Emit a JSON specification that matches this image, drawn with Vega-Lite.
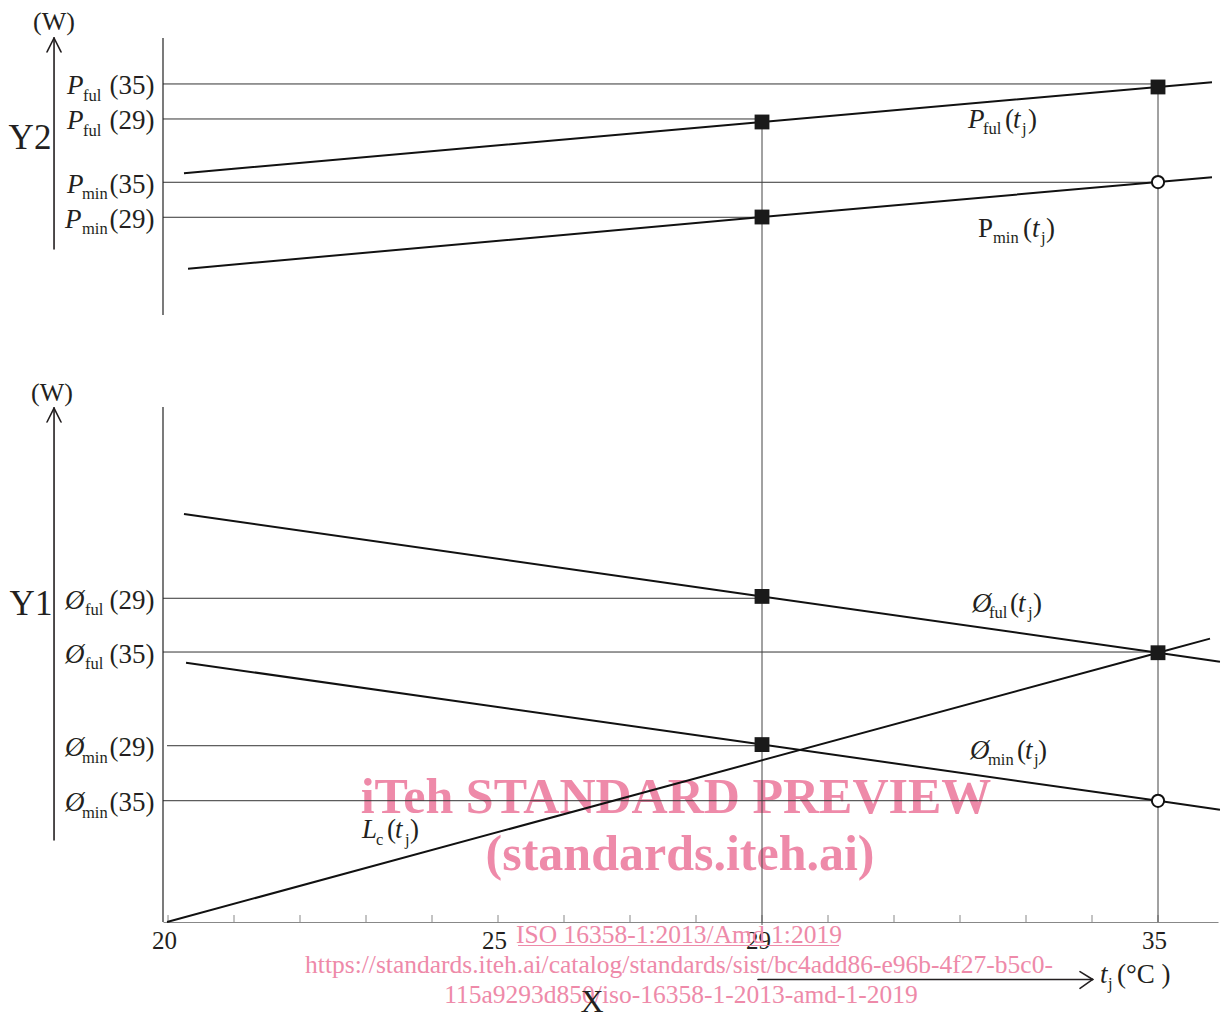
{
  "$schema": "https://vega.github.io/schema/vega-lite/v6.json",
  "width": 1055,
  "height": 884,
  "autosize": {"type": "none"},
  "padding": {"left": 163, "top": 38, "right": 3, "bottom": 99},
  "background": "white",
  "config": {"view": {"stroke": null}, "font": "Liberation Serif"},
  "resolve": {"axis": {"x": "independent", "y": "independent"}},
  "datasets": {
    "ticks": [{"t":20},{"t":21},{"t":22},{"t":23},{"t":24},{"t":25},{"t":26},{"t":27},{"t":28},{"t":29},{"t":30},{"t":31},{"t":32},{"t":33},{"t":34},{"t":35}],
    "series": [
      {"s":"Pful","t":20.242,"w":84.70},{"s":"Pful","t":29,"w":90.50},{"s":"Pful","t":35,"w":94.46},{"s":"Pful","t":35.818,"w":95.0},
      {"s":"Pmin","t":20.303,"w":73.9},{"s":"Pmin","t":29,"w":79.75},{"s":"Pmin","t":35,"w":83.71},{"s":"Pmin","t":35.818,"w":84.25},
      {"s":"Oful","t":20.242,"w":46.15},{"s":"Oful","t":29,"w":36.83},{"s":"Oful","t":35,"w":30.46},{"s":"Oful","t":35.939,"w":29.43},
      {"s":"Omin","t":20.273,"w":29.33},{"s":"Omin","t":29,"w":20.07},{"s":"Omin","t":35,"w":13.71},{"s":"Omin","t":35.939,"w":12.70},
      {"s":"Lc","t":19.985,"w":0},{"s":"Lc","t":35,"w":30.46},{"s":"Lc","t":35.788,"w":32.06}
    ],
    "squares": [{"t":29,"w":90.50},{"t":35,"w":94.46},{"t":29,"w":79.75},{"t":29,"w":36.83},{"t":35,"w":30.46},{"t":29,"w":20.07}],
    "circles": [{"t":35,"w":83.71},{"t":35,"w":13.71}],
    "vlines": [{"t":29,"w1":90.5,"w2":-0.34},{"t":35,"w1":94.46,"w2":0}],
    "hlines": [
      {"t1":19.924,"t2":35,"w":94.80},{"t1":19.924,"t2":29,"w":90.84},{"t1":19.924,"t2":35,"w":83.68},{"t1":19.924,"t2":29,"w":79.72},
      {"t1":19.924,"t2":29,"w":36.62},{"t1":19.924,"t2":35,"w":30.54},{"t1":19.985,"t2":29,"w":19.94},{"t1":19.924,"t2":35,"w":13.72}
    ],
    "yaxes": [{"t":19.924,"w1":100,"w2":68.67},{"t":19.924,"w1":58.26,"w2":0}],
    "arrows": [
      {"t1":18.273,"w1":76.13,"t2":18.273,"w2":100},{"t1":18.167,"w1":98.42,"t2":18.273,"w2":100},{"t1":18.379,"w1":98.42,"t2":18.273,"w2":100},
      {"t1":18.273,"w1":9.28,"t2":18.273,"w2":58.14},{"t1":18.167,"w1":56.56,"t2":18.273,"w2":58.14},{"t1":18.379,"w1":56.56,"t2":18.273,"w2":58.14},
      {"t1":28.939,"w1":-6.50,"t2":34.011,"w2":-6.50},{"t1":33.818,"w1":-5.62,"t2":34.011,"w2":-6.50},{"t1":33.818,"w1":-7.50,"t2":34.011,"w2":-6.50}
    ],
    "italic": [
      {"s":"P","t":18.470,"w":94.80},{"s":"P","t":18.470,"w":90.84},{"s":"P","t":18.470,"w":83.68},{"s":"P","t":18.439,"w":79.72},
      {"s":"Ø","t":18.439,"w":36.62},{"s":"Ø","t":18.439,"w":30.54},{"s":"Ø","t":18.439,"w":19.94},{"s":"Ø","t":18.439,"w":13.72},
      {"s":"P","t":32.121,"w":91.01},{"s":"t","t":32.803,"w":91.01},
      {"s":"t","t":33.091,"w":78.68},
      {"s":"Ø","t":32.182,"w":36.26},{"s":"t","t":32.879,"w":36.26},
      {"s":"Ø","t":32.152,"w":19.63},{"s":"t","t":32.985,"w":19.63},
      {"s":"L","t":22.939,"w":10.69},{"s":"t","t":23.439,"w":10.69},
      {"s":"t","t":34.121,"w":-5.71}
    ],
    "roman": [
      {"s":"(35)","t":19.114,"w":94.80},{"s":"(29)","t":19.114,"w":90.84},{"s":"(35)","t":19.114,"w":83.68},{"s":"(29)","t":19.114,"w":79.72},
      {"s":"(29)","t":19.114,"w":36.62},{"s":"(35)","t":19.114,"w":30.54},{"s":"(29)","t":19.114,"w":19.94},{"s":"(35)","t":19.114,"w":13.72},
      {"s":"(","t":32.682,"w":91.01},{"s":")","t":33.030,"w":91.01},
      {"s":"P","t":32.273,"w":78.68},{"s":"(","t":32.955,"w":78.68},{"s":")","t":33.303,"w":78.68},
      {"s":"(","t":32.758,"w":36.26},{"s":")","t":33.106,"w":36.26},
      {"s":"(","t":32.864,"w":19.63},{"s":")","t":33.182,"w":19.63},
      {"s":"(","t":23.318,"w":10.69},{"s":")","t":23.667,"w":10.69},
      {"s":"(°C )","t":34.379,"w":-5.71}
    ],
    "subs": [
      {"s":"ful","t":18.712,"w":94.80},{"s":"ful","t":18.712,"w":90.84},{"s":"min","t":18.697,"w":83.68},{"s":"min","t":18.697,"w":79.72},
      {"s":"ful","t":18.742,"w":36.62},{"s":"ful","t":18.742,"w":30.54},{"s":"min","t":18.697,"w":19.94},{"s":"min","t":18.697,"w":13.72},
      {"s":"ful","t":32.348,"w":91.01},{"s":"j","t":32.939,"w":91.01},
      {"s":"min","t":32.5,"w":78.68},{"s":"j","t":33.227,"w":78.68},
      {"s":"ful","t":32.439,"w":36.26},{"s":"j","t":33.030,"w":36.26},
      {"s":"min","t":32.424,"w":19.63},{"s":"j","t":33.121,"w":19.63},
      {"s":"c","t":23.152,"w":10.69},{"s":"j","t":23.591,"w":10.69},
      {"s":"j","t":34.242,"w":-5.71}
    ],
    "big": [{"s":"Y2","t":17.909,"w":88.69},{"s":"Y1","t":17.924,"w":35.97}],
    "xname": [{"s":"X","t":26.424,"w":-9.10}],
    "units": [{"s":"(W)","t":18.273,"w":101.81},{"s":"(W)","t":18.242,"w":59.84}],
    "wmbig": [{"s":"iTeh STANDARD PREVIEW","t":27.697,"w":12.33},{"s":"(standards.iteh.ai)","t":27.758,"w":5.88}],
    "wmsmall": [
      {"s":"ISO 16358-1:2013/Amd 1:2019","t":27.742,"w":-2.38},
      {"s":"https://standards.iteh.ai/catalog/standards/sist/bc4add86-e96b-4f27-b5c0-","t":27.742,"w":-5.77},
      {"s":"115a9293d850/iso-16358-1-2013-amd-1-2019","t":27.773,"w":-9.16}
    ],
    "wmline": [{"t1":25.303,"t2":30.167,"w":-2.66}]
  },
  "layer": [
    {
      "data": {"name": "ticks"},
      "mark": {"type": "rule", "color": "#888", "strokeWidth": 1},
      "encoding": {
        "x": {"field": "t", "type": "quantitative",
              "scale": {"domain": [19.924, 35.909], "nice": false, "zero": false},
              "axis": {"values": [20, 25, 29, 35], "format": "d", "ticks": false, "grid": false, "title": null,
                       "domain": true, "domainColor": "#888", "domainWidth": 1, "labelFont": "Liberation Serif", "labelFontSize": 25,
                       "labelColor": "#231f20", "labelPadding": 6, "labelOffset": -4, "labelFlush": false, "labelOverlap": false}},
        "y": {"datum": 0, "type": "quantitative", "scale": {"domain": [0, 100], "nice": false, "zero": false}, "axis": null},
        "y2": {"datum": 0.79}
      }
    },
    {
      "data": {"name": "wmline"},
      "mark": {"type": "rule", "color": "#ee8aa9", "strokeWidth": 1.2},
      "encoding": {
        "x": {"field": "t1", "type": "quantitative", "axis": null},
        "x2": {"field": "t2"},
        "y": {"field": "w", "type": "quantitative", "axis": null}
      }
    },
    {
      "data": {"name": "wmbig"},
      "mark": {"type": "text", "font": "Liberation Serif", "fontWeight": "bold", "fontSize": 50, "color": "#ee8aa9", "align": "center", "baseline": "alphabetic"},
      "encoding": {
        "x": {"field": "t", "type": "quantitative", "axis": null},
        "y": {"field": "w", "type": "quantitative", "axis": null},
        "text": {"field": "s"}
      }
    },
    {
      "data": {"name": "wmsmall"},
      "mark": {"type": "text", "font": "Liberation Serif", "fontSize": 25.5, "color": "#ee8aa9", "align": "center", "baseline": "alphabetic"},
      "encoding": {
        "x": {"field": "t", "type": "quantitative", "axis": null},
        "y": {"field": "w", "type": "quantitative", "axis": null},
        "text": {"field": "s"}
      }
    },
    {
      "data": {"name": "hlines"},
      "mark": {"type": "rule", "color": "#333", "strokeWidth": 1},
      "encoding": {
        "x": {"field": "t1", "type": "quantitative", "axis": null},
        "x2": {"field": "t2"},
        "y": {"field": "w", "type": "quantitative", "axis": null}
      }
    },
    {
      "data": {"name": "vlines"},
      "mark": {"type": "rule", "color": "#444", "strokeWidth": 1},
      "encoding": {
        "x": {"field": "t", "type": "quantitative", "axis": null},
        "y": {"field": "w1", "type": "quantitative", "axis": null},
        "y2": {"field": "w2"}
      }
    },
    {
      "data": {"name": "yaxes"},
      "mark": {"type": "rule", "color": "#222", "strokeWidth": 1.2},
      "encoding": {
        "x": {"field": "t", "type": "quantitative", "axis": null},
        "y": {"field": "w1", "type": "quantitative", "axis": null},
        "y2": {"field": "w2"}
      }
    },
    {
      "data": {"name": "arrows"},
      "mark": {"type": "rule", "color": "#231f20", "strokeWidth": 1.6, "strokeCap": "round"},
      "encoding": {
        "x": {"field": "t1", "type": "quantitative", "axis": null},
        "x2": {"field": "t2"},
        "y": {"field": "w1", "type": "quantitative", "axis": null},
        "y2": {"field": "w2"}
      }
    },
    {
      "data": {"name": "series"},
      "mark": {"type": "line", "color": "#111", "strokeWidth": 2},
      "encoding": {
        "x": {"field": "t", "type": "quantitative", "axis": null},
        "y": {"field": "w", "type": "quantitative", "axis": null},
        "detail": {"field": "s"}
      }
    },
    {
      "data": {"name": "squares"},
      "mark": {"type": "point", "shape": "square", "filled": true, "color": "#1a1a1a", "size": 220, "opacity": 1},
      "encoding": {
        "x": {"field": "t", "type": "quantitative", "axis": null},
        "y": {"field": "w", "type": "quantitative", "axis": null}
      }
    },
    {
      "data": {"name": "circles"},
      "mark": {"type": "point", "shape": "circle", "filled": true, "fill": "white", "stroke": "#111", "strokeWidth": 2, "size": 150, "opacity": 1},
      "encoding": {
        "x": {"field": "t", "type": "quantitative", "axis": null},
        "y": {"field": "w", "type": "quantitative", "axis": null}
      }
    },
    {
      "data": {"name": "italic"},
      "mark": {"type": "text", "font": "Liberation Serif", "fontStyle": "italic", "fontSize": 27, "color": "#231f20", "align": "left", "baseline": "alphabetic", "dy": 10.5},
      "encoding": {
        "x": {"field": "t", "type": "quantitative", "axis": null},
        "y": {"field": "w", "type": "quantitative", "axis": null},
        "text": {"field": "s"}
      }
    },
    {
      "data": {"name": "roman"},
      "mark": {"type": "text", "font": "Liberation Serif", "fontSize": 27, "color": "#231f20", "align": "left", "baseline": "alphabetic", "dy": 10.5},
      "encoding": {
        "x": {"field": "t", "type": "quantitative", "axis": null},
        "y": {"field": "w", "type": "quantitative", "axis": null},
        "text": {"field": "s"}
      }
    },
    {
      "data": {"name": "subs"},
      "mark": {"type": "text", "font": "Liberation Serif", "fontSize": 16.5, "color": "#231f20", "align": "left", "baseline": "alphabetic", "dy": 17},
      "encoding": {
        "x": {"field": "t", "type": "quantitative", "axis": null},
        "y": {"field": "w", "type": "quantitative", "axis": null},
        "text": {"field": "s"}
      }
    },
    {
      "data": {"name": "big"},
      "mark": {"type": "text", "font": "Liberation Serif", "fontSize": 35, "color": "#231f20", "align": "center", "baseline": "middle"},
      "encoding": {
        "x": {"field": "t", "type": "quantitative", "axis": null},
        "y": {"field": "w", "type": "quantitative", "axis": null},
        "text": {"field": "s"}
      }
    },
    {
      "data": {"name": "xname"},
      "mark": {"type": "text", "font": "Liberation Serif", "fontSize": 32, "color": "#231f20", "align": "center", "baseline": "middle"},
      "encoding": {
        "x": {"field": "t", "type": "quantitative", "axis": null},
        "y": {"field": "w", "type": "quantitative", "axis": null},
        "text": {"field": "s"}
      }
    },
    {
      "data": {"name": "units"},
      "mark": {"type": "text", "font": "Liberation Serif", "fontSize": 26, "color": "#231f20", "align": "center", "baseline": "middle"},
      "encoding": {
        "x": {"field": "t", "type": "quantitative", "axis": null},
        "y": {"field": "w", "type": "quantitative", "axis": null},
        "text": {"field": "s"}
      }
    }
  ]
}
